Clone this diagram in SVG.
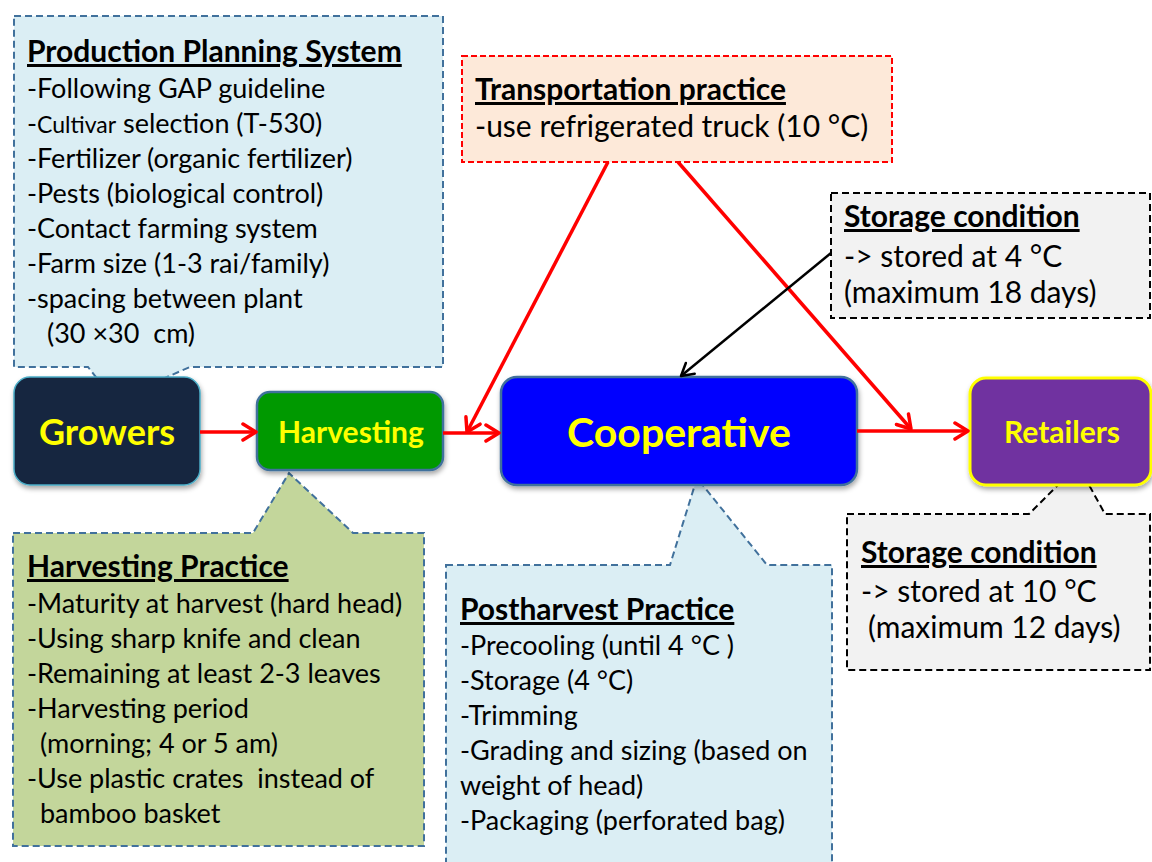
<svg xmlns="http://www.w3.org/2000/svg" width="1152" height="862" viewBox="0 0 1152 862">
<style>
text{font-family:Lato,"Open Sans","Liberation Sans",sans-serif;white-space:pre}
.t{font-size:27px;fill:#000}
.tl{font-size:30px;fill:#000}
.h{font-size:30px;font-weight:bold;text-decoration:underline;fill:#000}
.node{font-weight:bold;fill:#ffff00;text-anchor:middle}
.cb{fill:#dbeef4;stroke:#41719c;stroke-width:2;stroke-dasharray:7 4}
.cg{fill:#c3d69b;stroke:#41719c;stroke-width:2;stroke-dasharray:7 4}
.cs{fill:#f2f2f2;stroke:#000;stroke-width:2;stroke-dasharray:7 4}
.ct{fill:#fde9d9;stroke:#ff0000;stroke-width:2;stroke-dasharray:6 3}
.red{stroke:#ff0000;stroke-width:3.5;fill:none}
.blk{stroke:#000;stroke-width:2.5;fill:none}
</style>
<defs>
<marker id="ar" markerWidth="20" markerHeight="20" refX="16" refY="10" orient="auto" markerUnits="userSpaceOnUse">
<path d="M3,2 L16,10 L3,18" fill="none" stroke="#ff0000" stroke-width="3.5" stroke-linecap="round" stroke-linejoin="round"/>
</marker>
<marker id="ak" markerWidth="20" markerHeight="20" refX="16" refY="10" orient="auto" markerUnits="userSpaceOnUse">
<path d="M4,3 L16,10 L4,17" fill="none" stroke="#000" stroke-width="2.5" stroke-linecap="round" stroke-linejoin="round"/>
</marker>
<filter id="sh" x="-10%" y="-10%" width="130%" height="140%">
<feDropShadow dx="1" dy="3" stdDeviation="2.5" flood-color="#000" flood-opacity="0.35"/>
</filter>
</defs>

<g id="production-planning">
<path class="cb" d="M14,16 H443 V367 H190 L114,400 L88,367 H14 Z"/>
<text class="h" x="27" y="62">Production Planning System</text>
<text class="t" x="27" y="98">-Following GAP guideline</text>
<text class="t" x="27" y="133">-<tspan font-size="23">Cultivar</tspan> selection (T-530)</text>
<text class="t" x="27" y="168">-Fertilizer (organic fertilizer)</text>
<text class="t" x="27" y="203">-Pests (biological control)</text>
<text class="t" x="27" y="238">-Contact farming system</text>
<text class="t" x="27" y="273">-Farm size (1-3 rai/family)</text>
<text class="t" x="27" y="308">-spacing between plant</text>
<text class="t" x="47" y="343">(30 ×30  cm)</text>
</g>

<g id="transportation-practice">
<rect class="ct" x="462" y="56" width="430" height="106"/>
<text class="h" x="475" y="100">Transportation practice</text>
<text class="tl" x="475" y="137">-use refrigerated truck (10 °C)</text>
</g>

<g id="storage-cooperative">
<rect class="cs" x="831" y="193" width="319" height="125"/>
<text class="h" x="844" y="227">Storage condition</text>
<text class="tl" x="844" y="267">-&gt; stored at 4 °C</text>
<text class="tl" x="844" y="303">(maximum 18 days)</text>
</g>

<g id="harvesting-practice">
<path class="cg" d="M13,533 H253 L289,473 L353,533 H424 V846 H13 Z"/>
<text class="h" x="27" y="577">Harvesting Practice</text>
<text class="t" x="27" y="613" font-size="27.5">-Maturity at harvest (hard head)</text>
<text class="t" x="27" y="648" font-size="27.5">-Using sharp knife and clean</text>
<text class="t" x="27" y="683" font-size="27.5">-Remaining at least 2-3 leaves</text>
<text class="t" x="27" y="718" font-size="27.5">-Harvesting period</text>
<text class="t" x="40" y="753" font-size="27.5">(morning; 4 or 5 am)</text>
<text class="t" x="27" y="788" font-size="27.5">-Use plastic crates  instead of</text>
<text class="t" x="40" y="823" font-size="27.5">bamboo basket</text>
</g>

<g id="postharvest-practice">
<path class="cb" d="M446,565 H670 L697,478 L767,565 H832 V870 H446 Z"/>
<text class="h" x="460" y="620">Postharvest Practice</text>
<text class="t" x="460" y="655">-Precooling (until 4 °C )</text>
<text class="t" x="460" y="690">-Storage (4 °C)</text>
<text class="t" x="460" y="725">-Trimming</text>
<text class="t" x="460" y="760">-Grading and sizing (based on</text>
<text class="t" x="460" y="795">weight of head)</text>
<text class="t" x="460" y="830">-Packaging (perforated bag)</text>
</g>

<g id="storage-retailers">
<path class="cs" d="M847,514 H1029 L1078,465 L1105,514 H1150 V670 H847 Z"/>
<text class="h" x="861" y="563">Storage condition</text>
<text class="tl" x="861" y="602">-&gt; stored at 10 °C</text>
<text class="tl" x="868" y="638">(maximum 12 days)</text>
</g>

<g id="growers">
<rect x="14" y="377" width="186" height="108" rx="16" fill="#132640" stroke="#4bacc6" stroke-width="1.5" filter="url(#sh)"/>
<text class="node" x="107" y="445" font-size="36">Growers</text>
</g>

<g id="harvesting">
<rect x="257" y="392" width="186" height="78" rx="13" fill="#009900" stroke="#41719c" stroke-width="2.5" filter="url(#sh)"/>
<text class="node" x="351" y="443" font-size="30">Harvesting</text>
</g>

<g id="cooperative">
<rect x="501" y="377" width="356" height="108" rx="16" fill="#0000ff" stroke="#41719c" stroke-width="2.5" filter="url(#sh)"/>
<text class="node" x="679" y="447" font-size="41">Cooperative</text>
</g>

<g id="retailers">
<rect x="970" y="378" width="181" height="107" rx="16" fill="#7030a0" stroke="#ffff00" stroke-width="3" filter="url(#sh)"/>
<text class="node" x="1062" y="443" font-size="30">Retailers</text>
</g>

<g id="connectors">
<line class="red" x1="200" y1="432" x2="256" y2="432" marker-end="url(#ar)"/>
<line class="red" x1="443" y1="433" x2="499" y2="433" marker-end="url(#ar)"/>
<line class="red" x1="857" y1="431" x2="968" y2="431" marker-end="url(#ar)"/>
<line class="red" x1="608" y1="162" x2="467" y2="432" marker-end="url(#ar)"/>
<line class="red" x1="678" y1="162" x2="911" y2="429" marker-end="url(#ar)"/>
<line class="blk" x1="831" y1="253" x2="681" y2="376" marker-end="url(#ak)"/>
</g>
</svg>
